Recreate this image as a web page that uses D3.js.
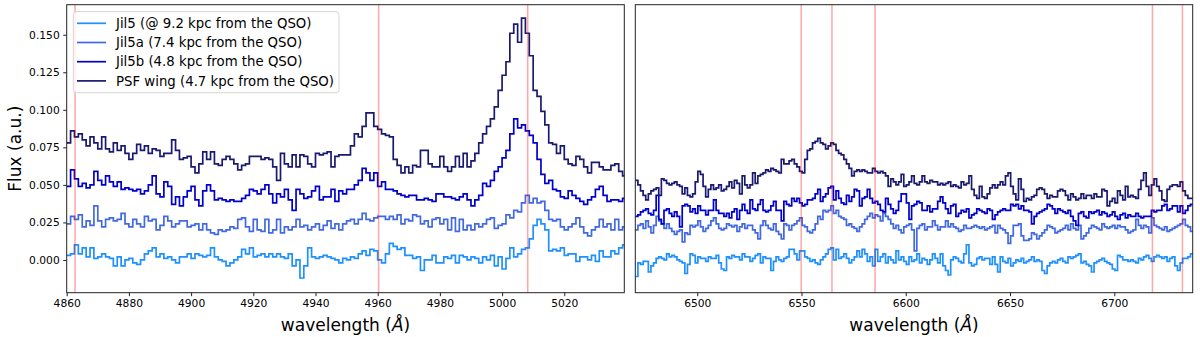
<!DOCTYPE html>
<html>
<head>
<meta charset="utf-8">
<script src="https://cdn.jsdelivr.net/npm/d3@7"></script>
<style>
  body { margin: 0; background: #fff; }
  svg { display: block; font-family: "DejaVu Sans", sans-serif; }
</style>
</head>
<body>
<div id="chart"></div>
<script>
// spectra, 1.25 A bins
var binWidth = 1.25;
var leftStart = 4860.0;
var rightStart = 6470.3;

var seriesNames = [
  'Jil5 (@ 9.2 kpc from the QSO)',
  'Jil5a (7.4 kpc from the QSO)',
  'Jil5b (4.8 kpc from the QSO)',
  'PSF wing (4.7 kpc from the QSO)'
];

var jil5Left = [
  0.003,0.004,0.010,0.004,0.008,0.002,0.008,0.001,0.002,0.004,
  0.002,0.001,-0.004,0.002,-0.004,0.000,0.001,-0.002,-0.003,0.000,
  0.004,0.006,0.008,0.002,0.004,0.001,0.002,0.000,-0.002,0.002,
  0.002,0.004,0.001,0.004,0.003,0.002,0.003,0.008,0.002,0.000,
  -0.001,-0.004,-0.002,0.000,0.002,0.007,0.004,0.008,0.002,0.003,
  0.004,0.002,0.004,0.002,0.004,0.002,0.001,0.004,-0.004,0.000,
  -0.012,-0.004,0.008,0.002,0.001,0.002,0.003,0.002,0.001,0.000,
  -0.002,0.001,0.000,0.002,0.001,0.004,0.006,0.003,0.007,0.006,
  0.000,-0.002,0.004,0.011,0.009,0.007,0.008,0.003,0.003,0.001,
  0.002,-0.007,0.000,0.000,0.003,-0.002,-0.002,0.002,0.001,0.003,
  -0.002,0.003,0.002,0.000,0.002,0.001,-0.002,0.002,0.000,0.003,
  -0.004,0.002,-0.006,0.001,0.008,0.002,0.004,0.007,0.008,0.014,
  0.023,0.027,0.024,0.020,0.006,0.007,0.006,0.008,0.003,0.004,
  0.004,-0.001,0.002,0.002,0.000,0.003,-0.001,0.006,0.002,0.002,
  0.006,0.004,0.008,0.010
];
var jil5aLeft = [
  0.024,0.029,0.027,0.030,0.022,0.026,0.023,0.036,0.026,0.022,
  0.027,0.028,0.026,0.027,0.031,0.024,0.022,0.027,0.024,0.022,
  0.029,0.026,0.027,0.020,0.023,0.029,0.026,0.022,0.024,0.026,
  0.026,0.022,0.023,0.024,0.020,0.024,0.020,0.018,0.017,0.020,
  0.019,0.020,0.022,0.021,0.027,0.028,0.022,0.019,0.027,0.020,
  0.019,0.027,0.018,0.020,0.027,0.018,0.022,0.020,0.022,0.027,
  0.022,0.023,0.020,0.022,0.024,0.020,0.023,0.026,0.021,0.024,
  0.020,0.024,0.026,0.027,0.024,0.027,0.031,0.027,0.026,0.028,
  0.029,0.029,0.027,0.029,0.027,0.030,0.024,0.027,0.026,0.030,
  0.029,0.024,0.026,0.022,0.027,0.028,0.024,0.027,0.020,0.028,
  0.019,0.027,0.020,0.023,0.020,0.024,0.022,0.024,0.027,0.028,
  0.021,0.023,0.024,0.030,0.028,0.033,0.032,0.038,0.043,0.038,
  0.041,0.038,0.039,0.033,0.027,0.026,0.027,0.022,0.020,0.022,
  0.024,0.028,0.022,0.018,0.016,0.020,0.022,0.027,0.022,0.024,
  0.020,0.027,0.020,0.022
];
var jil5bLeft = [
  0.049,0.060,0.054,0.049,0.051,0.048,0.050,0.059,0.053,0.050,
  0.056,0.052,0.049,0.052,0.047,0.048,0.047,0.046,0.047,0.044,
  0.046,0.050,0.056,0.044,0.042,0.052,0.049,0.037,0.042,0.036,
  0.042,0.046,0.049,0.040,0.036,0.046,0.050,0.046,0.040,0.041,
  0.040,0.039,0.040,0.039,0.039,0.041,0.043,0.047,0.046,0.044,
  0.047,0.050,0.044,0.038,0.044,0.042,0.047,0.040,0.033,0.047,
  0.044,0.041,0.042,0.046,0.049,0.040,0.042,0.042,0.047,0.039,
  0.046,0.044,0.047,0.047,0.050,0.053,0.061,0.058,0.053,0.058,
  0.049,0.052,0.047,0.047,0.046,0.044,0.043,0.042,0.043,0.043,
  0.040,0.040,0.041,0.040,0.039,0.044,0.044,0.042,0.042,0.041,
  0.040,0.042,0.044,0.040,0.036,0.040,0.043,0.051,0.049,0.053,
  0.059,0.062,0.068,0.073,0.084,0.094,0.088,0.090,0.086,0.083,
  0.078,0.067,0.057,0.051,0.053,0.047,0.046,0.042,0.041,0.046,
  0.043,0.041,0.039,0.037,0.040,0.042,0.047,0.049,0.043,0.039,
  0.040,0.040,0.039,0.041
];
var psfLeft = [
  0.078,0.086,0.082,0.084,0.080,0.076,0.082,0.078,0.074,0.082,
  0.074,0.072,0.078,0.073,0.076,0.071,0.067,0.071,0.077,0.073,
  0.076,0.071,0.074,0.073,0.069,0.071,0.071,0.080,0.073,0.067,
  0.068,0.069,0.062,0.058,0.064,0.072,0.067,0.072,0.064,0.063,
  0.067,0.069,0.067,0.064,0.060,0.063,0.064,0.069,0.069,0.069,
  0.067,0.068,0.067,0.062,0.053,0.071,0.064,0.062,0.070,0.062,
  0.070,0.069,0.064,0.062,0.071,0.070,0.071,0.072,0.062,0.069,
  0.070,0.070,0.070,0.076,0.084,0.082,0.089,0.098,0.098,0.089,
  0.087,0.084,0.083,0.082,0.067,0.063,0.058,0.062,0.058,0.063,
  0.062,0.073,0.073,0.064,0.062,0.062,0.069,0.062,0.059,0.062,
  0.069,0.062,0.071,0.062,0.066,0.071,0.078,0.084,0.089,0.094,
  0.102,0.113,0.123,0.132,0.151,0.157,0.145,0.161,0.151,0.136,
  0.113,0.109,0.099,0.090,0.078,0.077,0.071,0.076,0.067,0.064,
  0.063,0.069,0.067,0.062,0.058,0.065,0.065,0.062,0.060,0.060,
  0.063,0.064,0.059,0.056
];

var jil5Right = [
  -0.011,-0.002,-0.003,-0.001,-0.001,-0.008,-0.004,-0.002,0.001,0.002,
  0.001,0.000,0.004,0.002,0.003,0.002,0.000,-0.001,-0.002,-0.009,
  -0.003,0.004,0.003,-0.002,0.002,0.001,0.001,-0.001,0.002,0.001,
  0.001,0.003,-0.002,-0.006,-0.007,0.002,0.001,0.003,0.002,0.002,
  0.000,0.004,0.002,0.002,-0.001,0.001,0.003,0.004,-0.002,0.002,
  0.001,0.001,-0.007,-0.001,0.002,0.000,-0.001,0.001,0.002,0.007,
  0.007,0.004,0.000,0.006,0.006,0.002,0.001,-0.001,0.000,-0.002,
  -0.003,0.000,0.002,0.004,0.007,0.008,0.000,0.007,0.001,0.002,
  0.004,0.001,-0.002,0.000,0.002,0.006,0.002,0.007,0.004,-0.001,
  0.002,-0.004,0.007,-0.001,0.002,0.004,-0.002,0.002,0.000,-0.002,
  0.006,0.000,0.002,-0.001,-0.003,0.002,-0.001,0.000,0.004,-0.002,
  0.001,0.000,-0.003,0.000,0.004,0.001,-0.002,0.004,-0.004,-0.007,
  -0.010,0.000,0.002,0.001,-0.001,-0.002,0.004,0.010,-0.002,-0.004,
  -0.003,0.001,0.002,0.000,0.001,0.001,-0.003,0.002,-0.003,-0.008,
  0.002,-0.001,-0.002,0.001,-0.004,-0.002,0.000,-0.001,0.001,-0.002,
  -0.001,0.000,0.002,-0.001,0.000,-0.001,-0.007,-0.009,-0.004,-0.002,
  -0.001,-0.002,0.000,0.001,-0.001,-0.002,0.002,0.001,0.002,0.003,
  0.004,-0.002,-0.001,-0.003,-0.004,-0.008,-0.002,-0.001,0.000,0.001,
  -0.001,-0.002,-0.003,-0.006,-0.007,0.003,0.002,0.000,0.000,-0.001,
  0.000,-0.001,-0.002,0.001,0.000,0.002,0.003,0.001,-0.001,0.002,
  0.003,0.002,0.001,0.002,-0.001,0.001,0.002,-0.004,-0.007,-0.002,
  0.001,0.001,0.002,0.004
];
var jil5aRight = [
  0.020,0.023,0.024,0.021,0.026,0.022,0.018,0.023,0.029,0.026,
  0.024,0.021,0.024,0.021,0.019,0.017,0.019,0.020,0.012,0.018,
  0.017,0.023,0.022,0.023,0.026,0.022,0.019,0.021,0.023,0.026,
  0.028,0.024,0.021,0.020,0.021,0.024,0.023,0.022,0.023,0.019,
  0.022,0.024,0.021,0.023,0.023,0.020,0.018,0.014,0.023,0.026,
  0.023,0.021,0.020,0.024,0.019,0.017,0.014,0.024,0.023,0.020,
  0.023,0.024,0.026,0.028,0.023,0.022,0.019,0.018,0.020,0.024,
  0.029,0.027,0.033,0.032,0.033,0.036,0.031,0.033,0.029,0.028,
  0.027,0.023,0.024,0.022,0.021,0.019,0.022,0.024,0.027,0.029,
  0.031,0.028,0.030,0.029,0.026,0.031,0.029,0.027,0.024,0.021,
  0.023,0.020,0.018,0.022,0.023,0.024,0.020,0.006,0.021,0.023,
  0.024,0.020,0.022,0.022,0.026,0.023,0.020,0.022,0.022,0.026,
  0.022,0.024,0.022,0.021,0.019,0.020,0.023,0.021,0.021,0.022,
  0.023,0.022,0.021,0.022,0.020,0.021,0.022,0.023,0.018,0.023,
  0.021,0.020,0.018,0.011,0.016,0.023,0.023,0.024,0.016,0.013,
  0.013,0.014,0.018,0.017,0.014,0.016,0.018,0.020,0.023,0.022,
  0.021,0.018,0.019,0.020,0.021,0.023,0.020,0.024,0.021,0.020,
  0.023,0.014,0.016,0.018,0.021,0.023,0.022,0.021,0.020,0.024,
  0.022,0.021,0.022,0.023,0.021,0.023,0.022,0.022,0.020,0.018,
  0.019,0.020,0.027,0.023,0.021,0.023,0.022,0.018,0.028,0.023,
  0.022,0.021,0.020,0.022,0.019,0.020,0.021,0.022,0.023,0.024,
  0.027,0.023,0.022,0.019
];
var jil5bRight = [
  0.029,0.030,0.032,0.033,0.034,0.031,0.030,0.033,0.043,0.027,
  0.024,0.033,0.034,0.031,0.029,0.032,0.029,0.022,0.036,0.037,
  0.036,0.032,0.034,0.031,0.036,0.033,0.033,0.030,0.033,0.033,
  0.040,0.033,0.031,0.031,0.029,0.031,0.028,0.032,0.034,0.027,
  0.033,0.037,0.033,0.031,0.040,0.034,0.033,0.037,0.040,0.033,
  0.032,0.033,0.036,0.039,0.033,0.033,0.026,0.039,0.037,0.036,
  0.041,0.039,0.041,0.038,0.036,0.037,0.040,0.040,0.041,0.044,
  0.047,0.039,0.042,0.044,0.048,0.049,0.040,0.046,0.041,0.038,
  0.037,0.043,0.039,0.042,0.047,0.046,0.036,0.041,0.042,0.047,
  0.041,0.038,0.039,0.037,0.033,0.032,0.041,0.037,0.034,0.031,
  0.033,0.039,0.044,0.044,0.038,0.027,0.036,0.037,0.039,0.038,
  0.033,0.033,0.036,0.032,0.034,0.034,0.039,0.042,0.038,0.034,
  0.031,0.036,0.037,0.029,0.031,0.033,0.032,0.034,0.028,0.030,
  0.031,0.034,0.033,0.032,0.031,0.034,0.033,0.027,0.030,0.032,
  0.033,0.034,0.033,0.033,0.037,0.036,0.037,0.034,0.036,0.033,
  0.033,0.032,0.024,0.029,0.031,0.032,0.033,0.034,0.037,0.036,
  0.034,0.031,0.034,0.033,0.032,0.031,0.033,0.029,0.026,0.023,
  0.031,0.032,0.029,0.028,0.032,0.031,0.032,0.033,0.030,0.032,
  0.031,0.029,0.030,0.032,0.029,0.027,0.030,0.031,0.028,0.030,
  0.029,0.029,0.031,0.029,0.028,0.029,0.029,0.029,0.033,0.032,
  0.033,0.033,0.036,0.037,0.033,0.034,0.036,0.036,0.032,0.036,
  0.031,0.033,0.036,0.037
];
var psfRight = [
  0.053,0.050,0.046,0.043,0.040,0.044,0.046,0.047,0.048,0.043,
  0.054,0.053,0.051,0.050,0.051,0.052,0.050,0.049,0.044,0.048,
  0.043,0.042,0.044,0.052,0.059,0.057,0.049,0.042,0.047,0.050,
  0.047,0.048,0.050,0.046,0.047,0.049,0.052,0.048,0.053,0.051,
  0.044,0.056,0.050,0.048,0.050,0.058,0.051,0.056,0.057,0.058,
  0.060,0.059,0.061,0.060,0.059,0.058,0.067,0.064,0.064,0.066,
  0.067,0.064,0.062,0.059,0.058,0.067,0.073,0.074,0.078,0.079,
  0.081,0.078,0.077,0.074,0.076,0.078,0.077,0.073,0.071,0.070,
  0.067,0.064,0.061,0.056,0.059,0.060,0.059,0.060,0.059,0.058,
  0.058,0.061,0.059,0.058,0.059,0.058,0.056,0.049,0.054,0.052,
  0.050,0.052,0.057,0.049,0.050,0.052,0.056,0.051,0.050,0.052,
  0.056,0.052,0.051,0.053,0.052,0.052,0.050,0.051,0.050,0.051,
  0.052,0.049,0.050,0.049,0.048,0.052,0.050,0.051,0.056,0.047,
  0.043,0.041,0.049,0.042,0.041,0.044,0.048,0.050,0.048,0.050,
  0.052,0.050,0.056,0.058,0.049,0.044,0.040,0.054,0.047,0.039,
  0.041,0.040,0.042,0.043,0.047,0.048,0.047,0.044,0.041,0.043,
  0.042,0.042,0.046,0.047,0.046,0.043,0.040,0.044,0.042,0.040,
  0.041,0.044,0.041,0.043,0.043,0.041,0.044,0.042,0.042,0.047,
  0.046,0.036,0.039,0.041,0.038,0.046,0.043,0.040,0.049,0.042,
  0.043,0.042,0.041,0.047,0.053,0.058,0.049,0.043,0.050,0.054,
  0.049,0.046,0.040,0.039,0.047,0.049,0.050,0.050,0.049,0.052,
  0.046,0.043,0.041,0.041
];

var leftLines = [4862.68, 4960.30, 5008.24];
var rightLines = [6549.86, 6564.61, 6585.27, 6718.29, 6732.67];
var leftTicks = [4860, 4880, 4900, 4920, 4940, 4960, 4980, 5000, 5020];
var rightTicks = [6500, 6550, 6600, 6650, 6700];
var yTicks = [0.000, 0.025, 0.050, 0.075, 0.100, 0.125, 0.150];

var width = 1200, height = 337;
var colors = ['#1e90ff', '#4169e1', '#0000cd', '#191970'];

var svg = d3.select('#chart')
  .append('svg')
  .attr('width', width)
  .attr('height', height);

var y = d3.scaleLinear().domain([-0.0218, 0.170]).range([292.7, 4.7]);

var xLeft = d3.scaleLinear().domain([4860, 5039.3]).range([66.7, 624.3]);
var xRight = d3.scaleLinear().domain([6470.3, 6737.6]).range([635.3, 1192.7]);

function drawPanel(id, x, start, series, lines, ticks, showY) {
  var r = x.range();
  var g = svg.append('g');

  g.append('clipPath').attr('id', id)
    .append('rect')
    .attr('x', r[0]).attr('y', y.range()[1])
    .attr('width', r[1] - r[0]).attr('height', y.range()[0] - y.range()[1]);

  var plot = g.append('g').attr('clip-path', 'url(#' + id + ')');

  var line = d3.line()
    .x(function(d) { return x(d[0]); })
    .y(function(d) { return y(d[1]); })
    .curve(d3.curveStepAfter);

  series.forEach(function(vals, k) {
    var pts = vals.map(function(v, i) { return [start + i * binWidth, v]; });
    pts.push([start + vals.length * binWidth, vals[vals.length - 1]]);
    plot.append('path')
      .attr('d', line(pts))
      .attr('fill', 'none')
      .attr('stroke', colors[k])
      .attr('stroke-width', 1.7)
      .attr('stroke-linejoin', 'miter');
  });

  plot.selectAll('.mark')
    .data(lines)
    .enter()
    .append('line')
    .attr('x1', function(d) { return x(d); })
    .attr('x2', function(d) { return x(d); })
    .attr('y1', y.range()[1])
    .attr('y2', y.range()[0])
    .attr('stroke', 'red')
    .attr('stroke-opacity', 0.35)
    .attr('stroke-width', 1.5);

  var xAxis = g.append('g')
    .attr('transform', 'translate(0,' + y.range()[0] + ')')
    .call(d3.axisBottom(x).tickValues(ticks).tickSize(3.5).tickPadding(3.5).tickFormat(d3.format('d')));
  xAxis.select('.domain').remove();
  xAxis.selectAll('text').attr('font-size', '10.7px').attr('fill', '#000').attr('font-family', '"DejaVu Sans", sans-serif');
  xAxis.selectAll('line').attr('stroke', '#222');

  if (showY) {
    var yAxis = g.append('g')
      .attr('transform', 'translate(' + r[0] + ',0)')
      .call(d3.axisLeft(y).tickValues(yTicks).tickSize(3.5).tickPadding(3.5).tickFormat(d3.format('.3f')));
    yAxis.select('.domain').remove();
    yAxis.selectAll('text').attr('font-size', '10.7px').attr('fill', '#000').attr('font-family', '"DejaVu Sans", sans-serif');
    yAxis.selectAll('line').attr('stroke', '#222');
  }

  g.append('rect')
    .attr('x', r[0]).attr('y', y.range()[1])
    .attr('width', r[1] - r[0]).attr('height', y.range()[0] - y.range()[1])
    .attr('fill', 'none')
    .attr('stroke', '#222')
    .attr('stroke-width', 1);

  var label = g.append('text')
    .attr('x', (r[0] + r[1]) / 2)
    .attr('y', 331)
    .attr('text-anchor', 'middle')
    .attr('font-size', '17px')
    .text('wavelength (');
  label.append('tspan').attr('font-style', 'italic').text('Å');
  label.append('tspan').text(')');
}

drawPanel('clipL', xLeft, leftStart, [jil5Left, jil5aLeft, jil5bLeft, psfLeft], leftLines, leftTicks, true);
drawPanel('clipR', xRight, rightStart, [jil5Right, jil5aRight, jil5bRight, psfRight], rightLines, rightTicks, false);

svg.append('text')
  .attr('transform', 'translate(21,' + ((y.range()[0] + y.range()[1]) / 2) + ') rotate(-90)')
  .attr('text-anchor', 'middle')
  .attr('font-size', '17px')
  .text('Flux (a.u.)');

// legend
var legend = svg.append('g').attr('transform', 'translate(73.3,11.7)');
legend.append('rect')
  .attr('width', 265.7).attr('height', 81)
  .attr('rx', 3)
  .attr('fill', '#fff').attr('fill-opacity', 0.8)
  .attr('stroke', '#d6d6d6');

var rows = legend.selectAll('.row')
  .data(seriesNames)
  .enter()
  .append('g')
  .attr('transform', function(d, i) { return 'translate(0,' + (11.6 + i * 19.2) + ')'; });

rows.append('line')
  .attr('x1', 3.7).attr('x2', 32.7)
  .attr('stroke', function(d, i) { return colors[i]; })
  .attr('stroke-width', 1.7);

rows.append('text')
  .attr('x', 42.7)
  .attr('dy', '0.36em')
  .attr('font-size', '13.3px')
  .text(function(d) { return d; });
</script>
</body>
</html>
